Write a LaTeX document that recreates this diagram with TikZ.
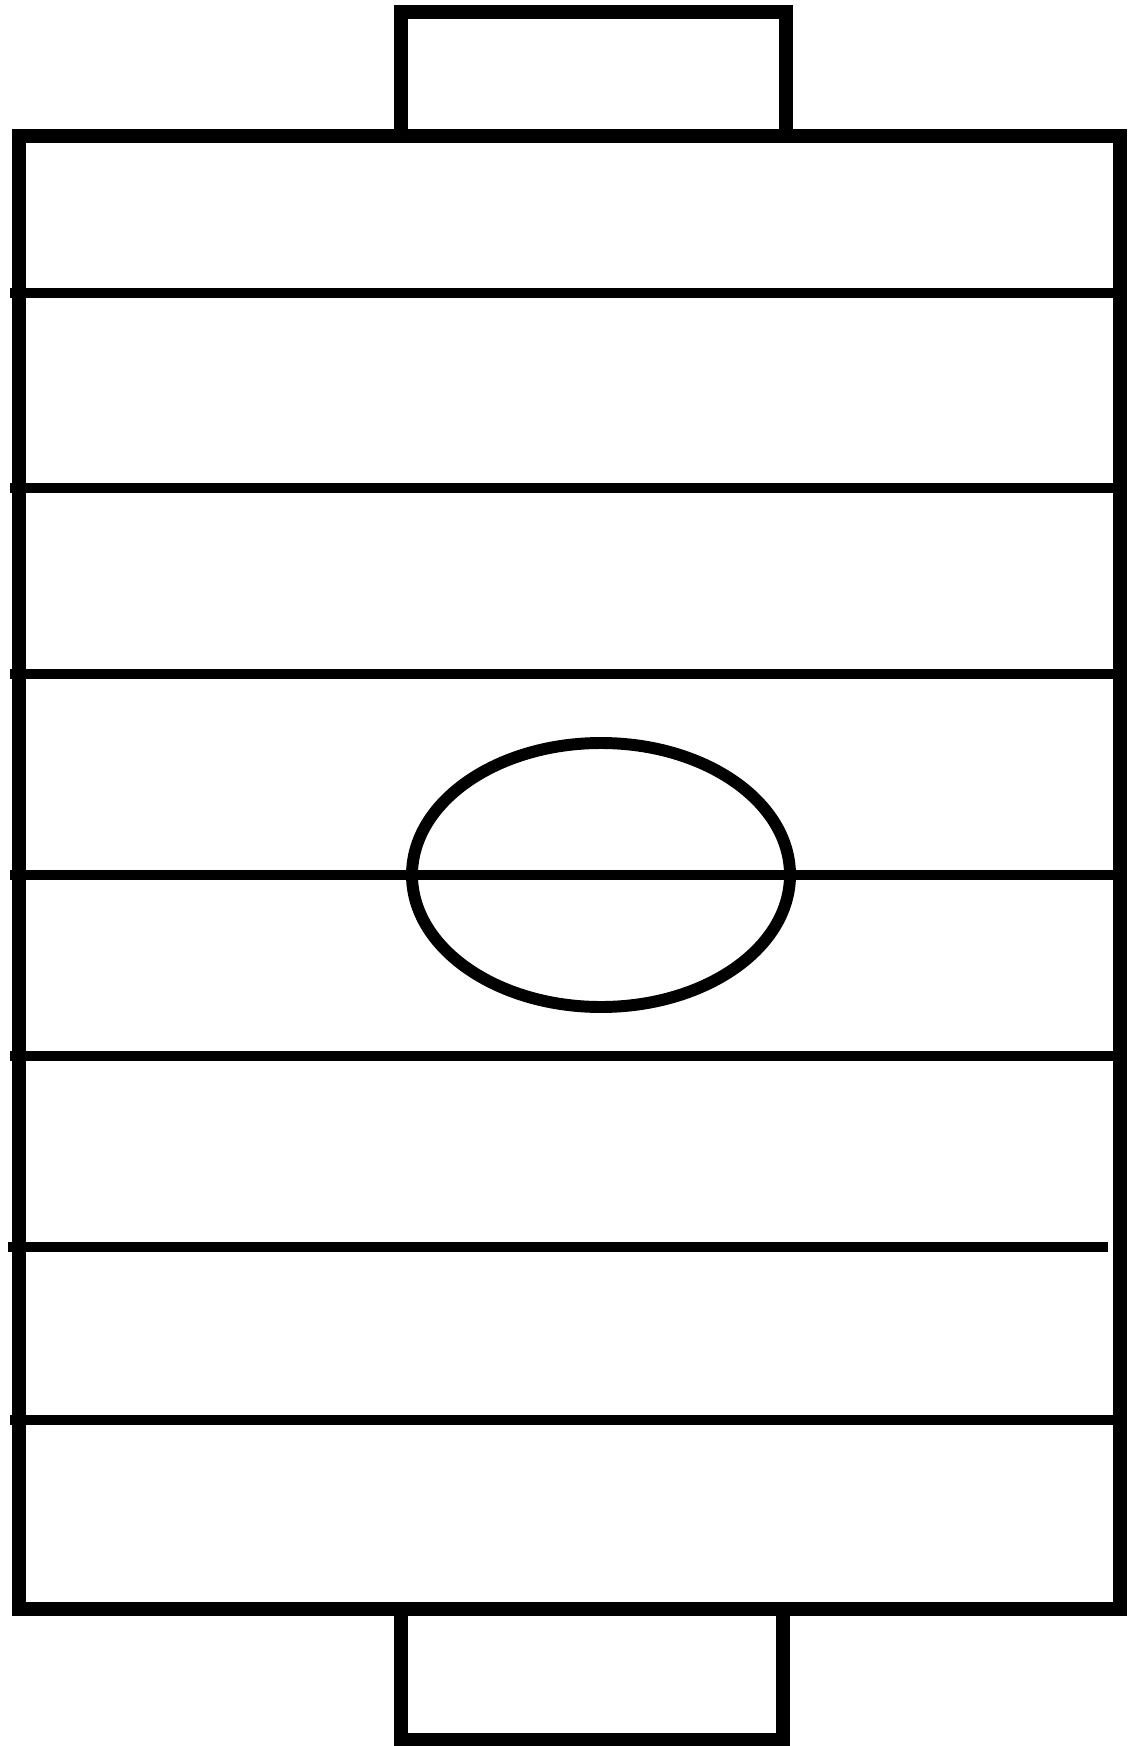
\documentclass[tikz,border=0pt]{standalone}
\begin{document}
\begin{tikzpicture}[x=0.02cm, y=-0.02cm,
  border/.style={draw, line width=8.5pt, line join=miter},
  stripe/.style={draw, line width=6pt},
  ring/.style={draw, line width=6.8pt}]
  \useasboundingbox (0,0) rectangle (1128,1746);
  % Goals at both ends
  \draw[border] (401,1609) -- (401,1740) -- (783,1740) -- (783,1609);
  \draw[border] (401,136) -- (401,12) -- (786,12) -- (786,136);
  % Field outline
  \draw[border] (19,136) rectangle (1120,1609);
  % Cross lines
  \foreach \y in {293,488,674,875,1056,1420}
    \draw[stripe] (10,\y) -- (1120,\y);
  \draw[stripe] (8,1247) -- (1108,1247);
  % Centre circle
  \draw[ring] (601,875) ellipse (189 and 132);
\end{tikzpicture}
\end{document}
